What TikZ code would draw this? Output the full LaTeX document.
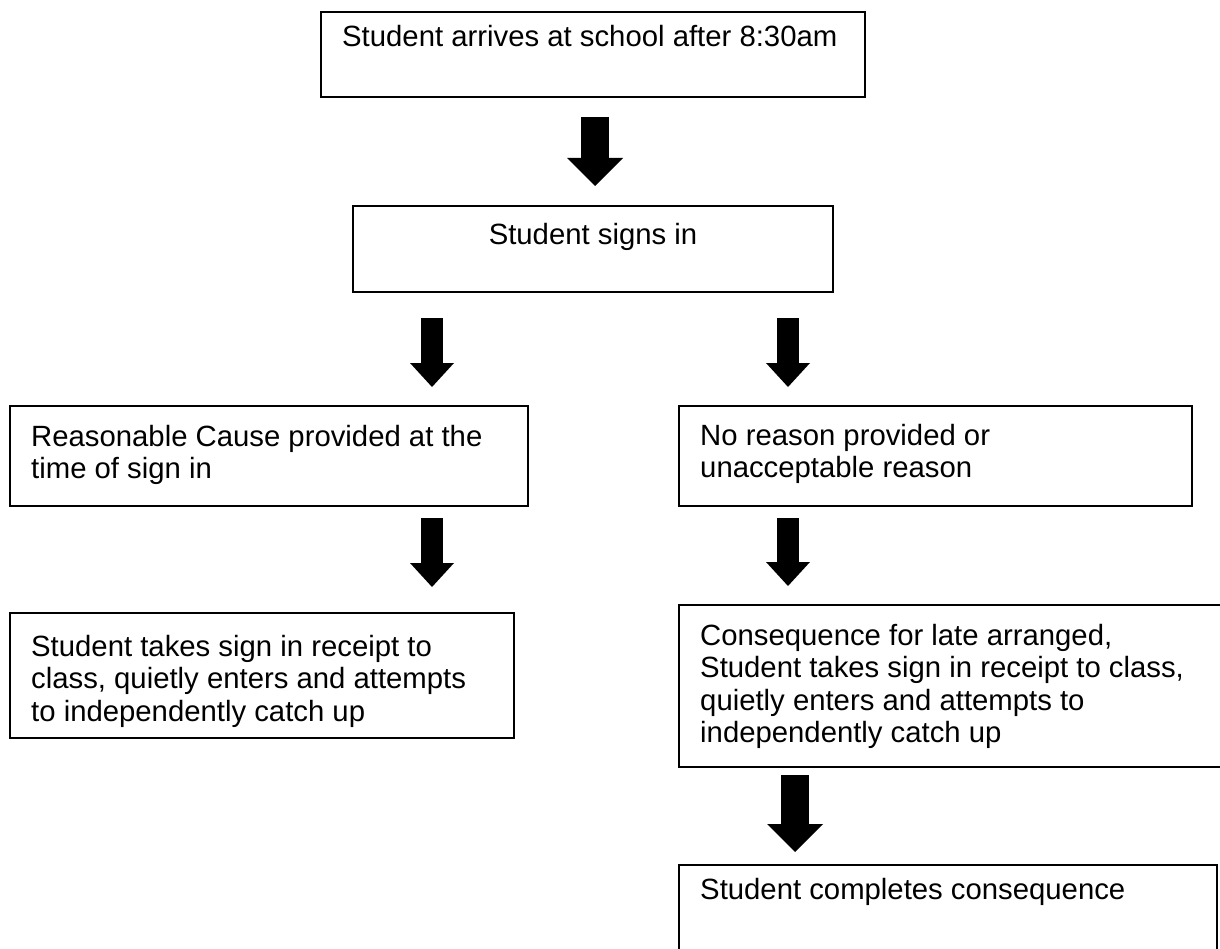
\documentclass[tikz,border=0pt]{standalone}
\usepackage{fontspec}
\setmainfont{Liberation Sans}
\usetikzlibrary{arrows.meta}

\newcommand{\flowfont}{\fontsize{29.3pt}{32.5pt}\selectfont}

\begin{document}
\begin{tikzpicture}[x=1pt,y=-1pt,
box/.style={draw,rectangle,line width=1.6pt,anchor=north west,inner sep=0pt,outer sep=0pt},
txt/.style={anchor=north west,align=left,inner xsep=21pt,inner ysep=0pt,font=\flowfont},
bigarrow/.style={line width=28pt,-{Triangle[width=56pt,length=28pt,line width=0pt]}},
smallarrow/.style={line width=22pt,-{Triangle[width=44pt,length=24pt,line width=0pt]}}]
\useasboundingbox (0,0) rectangle (1220,949);
\clip (0,0) rectangle (1220,949);

\node (arrive) [box,minimum width=544pt,minimum height=85pt,
    label={[txt,yshift=-13pt]north west:{Student arrives at school after 8:30am}}] at (321,12) {};
\node (signin) [box,minimum width=480pt,minimum height=86pt,
    label={[txt,anchor=north,align=center,yshift=-17pt]north:{Student signs in}}] at (353,206) {};

% two branches
\node (reason) [box,minimum width=518pt,minimum height=100pt,
    label={[txt,yshift=-19pt]north west:{Reasonable Cause provided at the\\time of sign in}}] at (10,406) {};
\node (noreason) [box,minimum width=513pt,minimum height=100pt,
    label={[txt,yshift=-18pt]north west:{No reason provided or\\unacceptable reason}}] at (679,406) {};
\node (catchup) [box,minimum width=504pt,minimum height=125pt,
    label={[txt,yshift=-22pt]north west:{Student takes sign in receipt to\\class, quietly enters and attempts\\to independently catch up}}] at (10,613) {};
\node (consequence) [box,minimum width=551pt,minimum height=162pt,
    label={[txt,yshift=-19pt]north west:{Consequence for late arranged,\\Student takes sign in receipt to class,\\quietly enters and attempts to\\independently catch up}}] at (679,605) {};
\node (complete) [box,minimum width=538pt,minimum height=95pt,
    label={[txt,yshift=-13pt]north west:{Student completes consequence}}] at (679,865) {};

\draw[bigarrow] ([xshift=2pt,yshift=-20pt]arrive.south) -- ([xshift=2pt,yshift=20pt]signin.north);
\draw[smallarrow] ([xshift=79pt,yshift=-26pt]signin.south west) -- ([xshift=422pt,yshift=19pt]reason.north west);
\draw[smallarrow] ([xshift=435pt,yshift=-26pt]signin.south west) -- ([xshift=109pt,yshift=19pt]noreason.north west);
\draw[smallarrow] ([xshift=422pt,yshift=-12pt]reason.south west) -- ([xshift=422pt,yshift=26pt]catchup.north west);
\draw[smallarrow] ([xshift=109pt,yshift=-12pt]noreason.south west) -- ([xshift=109pt,yshift=19pt]consequence.north west);
\draw[bigarrow] ([xshift=116pt,yshift=-8pt]consequence.south west) -- ([xshift=116pt,yshift=13pt]complete.north west);
\end{tikzpicture}
\end{document}
